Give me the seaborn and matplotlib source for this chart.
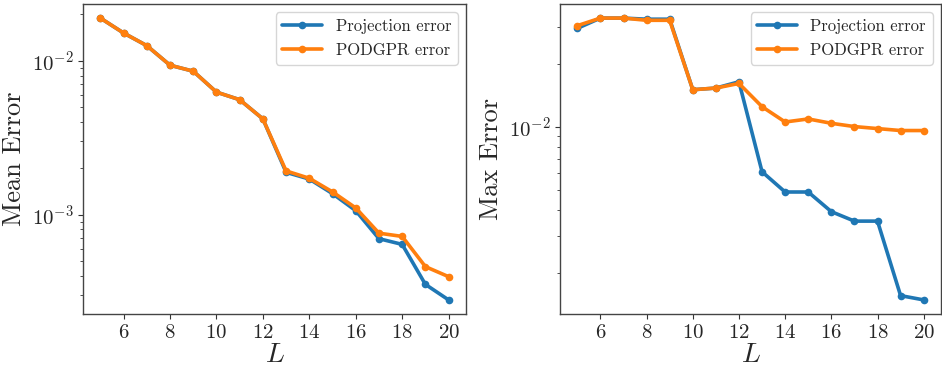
import numpy as np
import pandas as pd
import matplotlib
matplotlib.use("Agg")
import matplotlib.pyplot as plt
import seaborn as sns

L_values = [5, 6, 7, 8, 9, 10, 11, 12, 13, 14, 15, 16, 17, 18, 19, 20]

mean_projection = [0.01888, 0.0151, 0.0125, 0.00933, 0.00853, 0.00624, 0.00557, 0.00418,
                   0.00188, 0.00170, 0.001367, 0.00106, 0.000697, 0.00064, 0.000352, 0.000279]
mean_podgpr = [0.01888, 0.0151, 0.0125, 0.00933, 0.00853, 0.00624, 0.00557, 0.00418,
               0.00192, 0.00172, 0.001403, 0.001104, 0.000757, 0.000721, 0.000459, 0.000395]

max_projection = [0.02965, 0.0332, 0.0332, 0.0328, 0.0328, 0.01507, 0.01535, 0.01645,
                  0.0061, 0.00488, 0.00488, 0.00393, 0.00354, 0.00354, 0.001557, 0.001485]
max_podgpr = [0.03054, 0.0332, 0.0332, 0.0324, 0.0324, 0.01507, 0.01535, 0.01615,
              0.0125, 0.01056, 0.01092, 0.01041, 0.01004, 0.00982, 0.00961, 0.00961]

series_names = ["Projection error", "PODGPR error"]
y_labels = ["Mean Error", "Max Error"]
x_label = "$L$"

sns.set_style("ticks")
plt.rcParams["font.family"] = ["cmr10", "DejaVu Sans"]
plt.rcParams["mathtext.fontset"] = "cm"
plt.rcParams["axes.formatter.use_mathtext"] = True
plt.rcParams["axes.unicode_minus"] = False

fig = plt.figure(figsize=(9.42, 3.67), dpi=100)
ax1 = fig.add_axes([83 / 942, 1 - 314 / 367, 383 / 942, 310 / 367])
ax2 = fig.add_axes([560 / 942, 1 - 314 / 367, 381 / 942, 310 / 367])

colors = ["#1f77b4", "#ff7f0e"]
panels = [(ax1, mean_projection, mean_podgpr, y_labels[0]),
          (ax2, max_projection, max_podgpr, y_labels[1])]

for ax, proj, pod, ylab in panels:
    for vals, name, c in zip([proj, pod], series_names, colors):
        sns.lineplot(x=L_values, y=vals, marker="o", color=c, label=name, ax=ax,
                     linewidth=2.6, markersize=5.5, markeredgewidth=0)
    ax.set_yscale("log")
    ax.set_xticks([6, 8, 10, 12, 14, 16, 18, 20])
    ax.tick_params(axis="both", which="major", labelsize=15, color="#333333")
    ax.tick_params(axis="both", which="minor", color="#333333")
    ax.set_xlabel(x_label, fontsize=20, labelpad=0)
    ax.set_ylabel(ylab, fontsize=19)
    for s in ax.spines.values():
        s.set_color("#444444")
        s.set_linewidth(1.0)
    ax.legend(loc="upper right", fontsize=12, handlelength=2.4, frameon=True)

fig.savefig("out.png", dpi=100)
